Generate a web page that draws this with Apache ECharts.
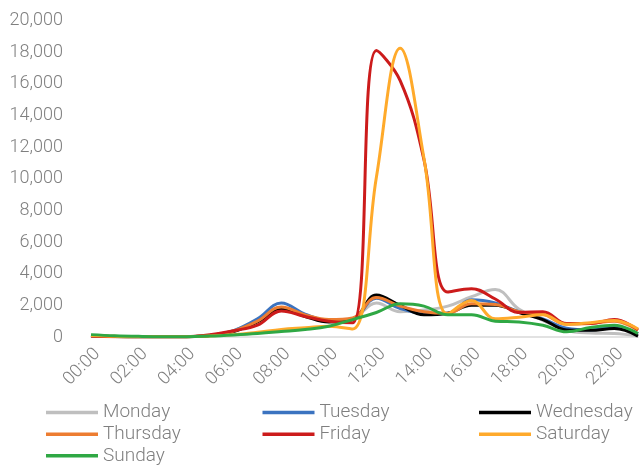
<!DOCTYPE html>
<html>
<head>
<meta charset="utf-8">
<script src="https://cdn.jsdelivr.net/npm/echarts@6/dist/echarts.min.js"></script>
<style>html,body{margin:0;padding:0;background:#fff}#c{width:644px;height:465px}</style>
</head>
<body>
<div id="c"></div>
<script>
var hours = ['00:00','01:00','02:00','03:00','04:00','05:00','06:00','07:00','08:00','09:00','10:00','11:00','12:00','13:00','14:00','15:00','16:00','17:00','18:00','19:00','20:00','21:00','22:00','23:00'];
var monday    = [100, 50, 20, 10, 20, 100, 400, 1100, 1800, 1400, 1000, 1150, 2150, 1600, 1700, 1950, 2550, 3000, 1750, 1050, 400, 250, 220, 60];
var tuesday   = [80, 30, 10, 10, 20, 100, 400, 1150, 2150, 1450, 1050, 1150, 2450, 1800, 1500, 1500, 2350, 2150, 1600, 1150, 550, 450, 650, 200];
var wednesday = [80, 30, 10, 10, 20, 100, 350, 950, 1750, 1300, 950, 1100, 2650, 2000, 1400, 1500, 2000, 2000, 1550, 1100, 450, 420, 530, 60];
var thursday  = [80, 30, 10, 10, 20, 100, 380, 1000, 1900, 1400, 1100, 1200, 2500, 1950, 1600, 1500, 2100, 2050, 1600, 1450, 800, 850, 1000, 420];
var friday    = [60, 20, 10, 10, 20, 150, 400, 750, 1650, 1300, 1000, 900, 18100, 16200, 11200, 2850, 3050, 2400, 1550, 1600, 850, 850, 1100, 450];
var saturday  = [100, 40, 10, 10, 20, 60, 150, 300, 480, 580, 680, 500, 10100, 18250, 11300, 1450, 2300, 1150, 1250, 1400, 800, 900, 1050, 500];
var sunday    = [150, 80, 40, 20, 20, 60, 130, 220, 340, 470, 680, 1100, 1550, 2100, 1950, 1400, 1400, 1000, 950, 740, 330, 600, 740, 220];
var yTicks = { min: 0, max: 20000, interval: 2000 };

var names = ['Monday','Tuesday','Wednesday','Thursday','Friday','Saturday','Sunday'];
var values = [monday, tuesday, wednesday, thursday, friday, saturday, sunday];
var colors = ['#BFBFBF','#3B73C0','#000000','#ED7D31','#CC1B1B','#FFAA2B','#2FA844'];

var font = 'Roboto, "Liberation Sans", sans-serif';
var chart = echarts.init(document.getElementById('c'), null, {renderer: 'canvas'});

// legend laid out in a 3-column grid, one legend component per entry
function legendItem(name, i) {
  var col = i % 3, row = Math.floor(i / 3);
  return {
    orient: 'horizontal', left: 46 + col * 216.5, top: 403 + row * 21.65,
    padding: 0,
    data: [name], icon: 'rect', itemWidth: 52, itemHeight: 3.5,
    textStyle: { fontFamily: font, fontSize: 19, fontWeight: 300, color: '#7F7F7F' }
  };
}

chart.setOption({
  animation: false,
  color: colors,
  grid: { left: 91, right: 6, top: 20.5, bottom: 128, containLabel: false },
  xAxis: {
    type: 'category', data: hours, boundaryGap: false,
    axisLine: { show: true, lineStyle: { color: '#D9D9D9', width: 1.5 } },
    axisTick: { show: false },
    axisLabel: { interval: 1, rotate: 45, margin: 8, verticalAlign: 'top', fontFamily: font, fontSize: 18, fontWeight: 300, color: '#7F7F7F' }
  },
  yAxis: {
    type: 'value', min: yTicks.min, max: yTicks.max, interval: yTicks.interval,
    axisLine: { show: false }, axisTick: { show: false },
    splitLine: { show: false },
    axisLabel: { margin: 28, fontFamily: font, fontSize: 18, fontWeight: 300, color: '#7F7F7F',
      formatter: function (v) { return v.toLocaleString('en-US'); } }
  },
  legend: names.map(legendItem),
  series: names.map(function (n, i) {
    return {
      name: n, type: 'line', data: values[i], smooth: 0.4,
      symbol: 'none', showSymbol: false,
      lineStyle: { width: 3, color: colors[i] },
      itemStyle: { color: colors[i] }
    };
  })
});
</script>
</body>
</html>
